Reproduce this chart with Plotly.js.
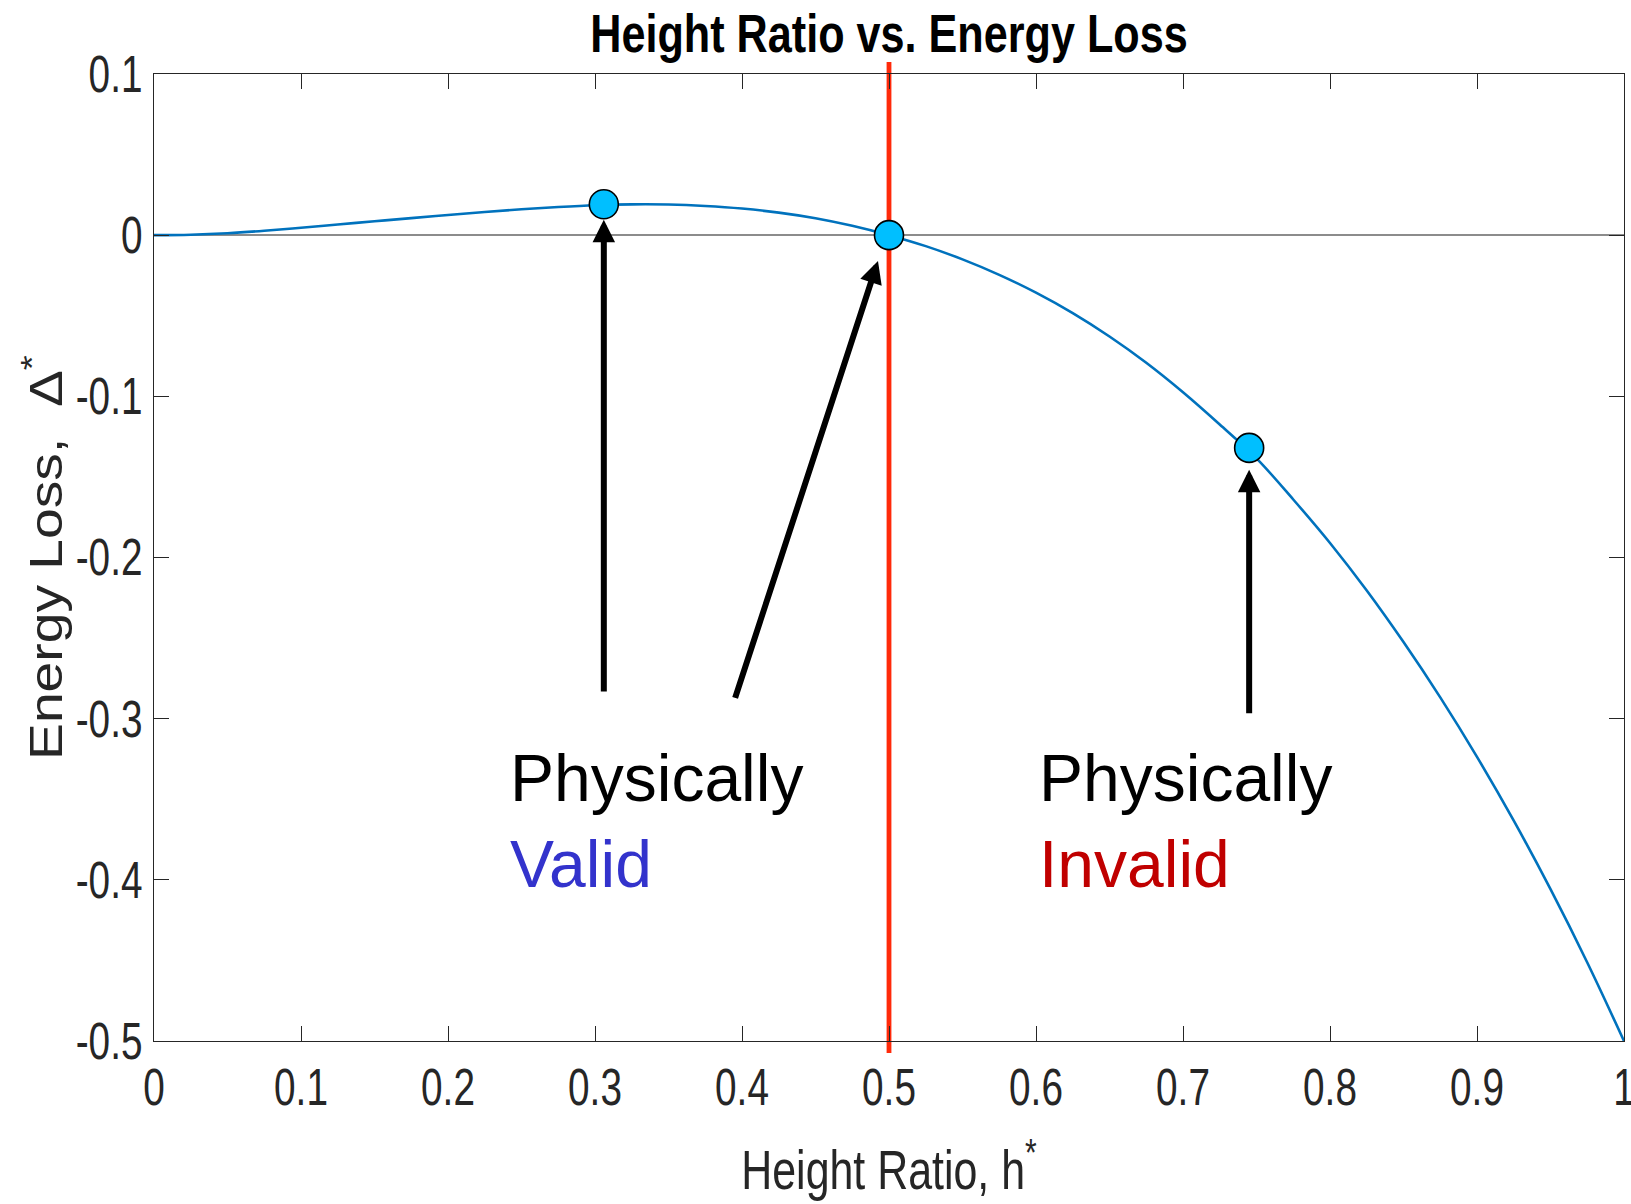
<!DOCTYPE html>
<html>
<head>
<meta charset="utf-8">
<script src="https://cdn.plot.ly/plotly-3.0.1.min.js"></script>
<style>
  html, body { margin: 0; padding: 0; background: #ffffff; overflow: hidden; }
  #chart { width: 1631px; height: 1204px; }
</style>
</head>
<body>
<div id="chart"></div>
<script>
// Curve: height ratio h* vs energy loss Δ*
const heightRatio = [0, 0.025, 0.05, 0.075, 0.1, 0.125, 0.15, 0.175, 0.2, 0.225, 0.25, 0.275, 0.3, 0.325, 0.35, 0.375, 0.4, 0.425, 0.45, 0.475, 0.5,
                     0.525, 0.55, 0.575, 0.6, 0.625, 0.65, 0.675, 0.7, 0.725, 0.75, 0.775, 0.8, 0.825, 0.85, 0.875, 0.9, 0.925, 0.95, 0.975, 1.0];
const energyLoss = [0, 0.0003, 0.0012, 0.0027, 0.0046, 0.0066, 0.0086, 0.0106, 0.0125, 0.0144, 0.0161, 0.0175, 0.0186, 0.0191, 0.0190, 0.0181, 0.0165, 0.0140, 0.0105, 0.0058, 0,
                    -0.0068, -0.0150, -0.0246, -0.0357, -0.0484, -0.0629, -0.0792, -0.0975, -0.1175, -0.1385, -0.1640, -0.1910, -0.2205, -0.2525, -0.2868, -0.3237, -0.3633, -0.4058, -0.4513, -0.5];

// Highlighted points
const pointH = [0.306, 0.5, 0.745];
const pointLoss = [0.0192, 0, -0.132];

// Validity boundary
const boundaryH = 0.5;

// Arrows: tail (from) and head (to) in data units
const arrowTailH = [0.306, 0.395, 0.745];
const arrowTailLoss = [-0.284, -0.288, -0.2975];
const arrowHeadH = [0.306, 0.4925, 0.745];
const arrowHeadLoss = [0.0095, -0.016, -0.1455];

// Labels
const labelH = [0.2408, 0.6007];
const labelLoss = [-0.3635, -0.3635];
const labelTop = ["Physically", "Physically"];
const labelBottom = ["Valid", "Invalid"];
const labelColors = ["#3333CC", "#C00000"];

// Axes ticks
const xTicks = [0, 0.1, 0.2, 0.3, 0.4, 0.5, 0.6, 0.7, 0.8, 0.9, 1];
const xTickLabels = ["0", "0.1", "0.2", "0.3", "0.4", "0.5", "0.6", "0.7", "0.8", "0.9", "1"];
const yTicks = [-0.5, -0.4, -0.3, -0.2, -0.1, 0, 0.1];
const yTickLabels = ["-0.5", "-0.4", "-0.3", "-0.2", "-0.1", "0", "0.1"];

const regular = "'Liberation Sans', Arial, sans-serif";
const axisGray = "#262626";

const traces = [
  {
    type: "scatter", mode: "lines",
    x: heightRatio, y: energyLoss,
    line: { color: "#0072BD", width: 2.6, shape: "spline", smoothing: 1 },
    hoverinfo: "x+y"
  },
  {
    type: "scatter", mode: "markers",
    x: pointH, y: pointLoss,
    marker: { size: 29, color: "#00BFFF", line: { color: "#000000", width: 1.6 } },
    cliponaxis: false
  }
];

const annotations = [];
for (let i = 0; i < arrowTailH.length; i++) {
  annotations.push({
    x: arrowHeadH[i], y: arrowHeadLoss[i], xref: "x", yref: "y",
    ax: arrowTailH[i], ay: arrowTailLoss[i], axref: "x", ayref: "y",
    text: "", showarrow: true, arrowhead: 2, arrowsize: 0.75, arrowwidth: 6,
    arrowcolor: "#000000", standoff: 0, startstandoff: 0
  });
}
for (let i = 0; i < labelH.length; i++) {
  annotations.push({
    x: labelH[i], y: labelLoss[i], xref: "x", yref: "y",
    xanchor: "left", yanchor: "middle", align: "left", showarrow: false,
    text: labelTop[i] + "<br><span style='color:" + labelColors[i] + "'>" + labelBottom[i] + "</span>",
    font: { family: regular, size: 66, color: "#000000" }
  });
}

const axisCommon = {
  ticks: "inside", ticklen: 15, tickwidth: 1, tickcolor: axisGray,
  mirror: "allticks", showline: true, linecolor: axisGray, linewidth: 1.3,
  showgrid: false, fixedrange: true, ticklabeloverflow: "allow",
  tickfont: { family: regular, size: 51, color: axisGray }
};

const layout = {
  width: 1631, height: 1204,
  margin: { l: 154, r: 7, t: 74, b: 163, pad: 0 },
  paper_bgcolor: "#ffffff", plot_bgcolor: "#ffffff",
  showlegend: false,
  title: {
    text: "Height Ratio vs. Energy Loss",
    font: { family: regular, size: 53, color: "#000000", weight: "bold" },
    x: 0.5, xref: "paper", xanchor: "center",
    y: 1 - 33 / 1204, yref: "container", yanchor: "middle"
  },
  xaxis: Object.assign({}, axisCommon, {
    range: [0, 1], tickmode: "array", tickvals: xTicks, ticktext: xTickLabels,
    zeroline: false, ticklabelstandoff: 2,
    title: { text: "Height Ratio, h<sup>*</sup>", font: { family: regular, size: 55, color: axisGray }, standoff: 35 }
  }),
  yaxis: Object.assign({}, axisCommon, {
    range: [-0.5, 0.1], tickmode: "array", tickvals: yTicks, ticktext: yTickLabels,
    zeroline: true, zerolinecolor: "#8C8C8C", zerolinewidth: 2, ticklabelstandoff: 0,
    title: { text: "Energy Loss,&nbsp; Δ<sup>*</sup>", font: { family: regular, size: 46, color: axisGray }, standoff: 0 }
  }),
  shapes: [
    {
      type: "line", layer: "below",
      xref: "x", yref: "paper",
      x0: boundaryH, x1: boundaryH, y0: -0.0124, y1: 1.0124,
      line: { color: "#FF2A0A", width: 4.8 }
    }
  ],
  annotations: annotations
};

// Horizontally condense (or stretch) text glyphs around an anchor, like the narrow MATLAB font
function squeeze(selector, s, anchor) {
  document.querySelectorAll(selector).forEach(function (t) {
    const b = t.getBBox();
    const c = anchor === "end" ? b.x + b.width : (anchor === "start" ? b.x : b.x + b.width / 2);
    const tr = t.getAttribute("transform") || "";
    t.setAttribute("transform", tr + " translate(" + c + ",0) scale(" + s + ",1) translate(" + (-c) + ",0)");
  });
}

// Move the rotated y title so its visual centre sits at a given page x
function centerYTitleAt(px) {
  const t = document.querySelector(".g-ytitle text");
  if (!t) return;
  const r = t.getBoundingClientRect();
  const dx = px - (r.left + r.width / 2);
  const g = t.parentNode;
  const tr = g.getAttribute("transform") || "";
  g.setAttribute("transform", "translate(" + dx + ",0) " + tr);
}

Plotly.newPlot("chart", traces, layout, { displayModeBar: false, staticPlot: true }).then(function () {
  squeeze(".xtick text", 0.76, "middle");
  squeeze(".ytick text", 0.76, "end");
  squeeze(".g-gtitle text", 0.815, "middle");
  squeeze(".g-xtitle text", 0.78, "middle");
  squeeze(".g-ytitle text", 1.2, "middle");
  centerYTitleAt(43);
});
</script>
</body>
</html>
